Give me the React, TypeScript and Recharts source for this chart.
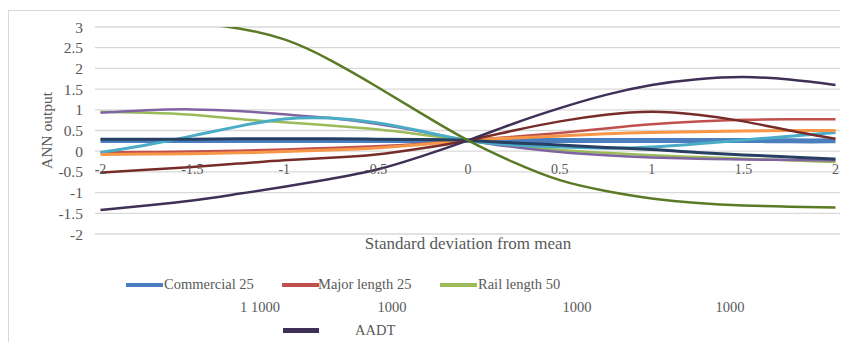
import { LineChart, Line, XAxis, YAxis, CartesianGrid, ReferenceDot } from 'recharts';

// x positions (standard deviations from mean)
const xs = [-2, -1.75, -1.5, -1.25, -1, -0.75, -0.5, -0.25, 0, 0.25, 0.5, 0.75, 1, 1.25, 1.5, 1.75, 2];

const commercial = [0.26, 0.26, 0.26, 0.26, 0.26, 0.26, 0.26, 0.26, 0.26, 0.26, 0.26, 0.26, 0.26, 0.26, 0.26, 0.25, 0.25];
const majorLength = [-0.03, -0.02, -0.01, 0.01, 0.04, 0.08, 0.12, 0.18, 0.26, 0.35, 0.44, 0.55, 0.65, 0.72, 0.76, 0.77, 0.77];
const railLength = [0.95, 0.93, 0.88, 0.78, 0.7, 0.62, 0.53, 0.4, 0.26, 0.13, 0.03, -0.04, -0.1, -0.14, -0.18, -0.22, -0.26];
const purpleSeries = [0.93, 0.99, 1.01, 0.97, 0.89, 0.8, 0.66, 0.47, 0.26, 0.1, -0.02, -0.1, -0.15, -0.18, -0.2, -0.21, -0.22];
const cyanSeries = [-0.03, 0.15, 0.37, 0.6, 0.78, 0.8, 0.69, 0.48, 0.26, 0.15, 0.1, 0.07, 0.1, 0.18, 0.27, 0.36, 0.45];
const orangeSeries = [-0.08, -0.07, -0.06, -0.04, -0.01, 0.03, 0.08, 0.16, 0.26, 0.32, 0.37, 0.42, 0.45, 0.47, 0.49, 0.5, 0.5];
const navySeries = [0.29, 0.29, 0.29, 0.3, 0.3, 0.3, 0.29, 0.28, 0.26, 0.2, 0.15, 0.09, 0.04, -0.03, -0.09, -0.14, -0.19];
const darkRedSeries = [-0.52, -0.45, -0.38, -0.3, -0.22, -0.16, -0.08, 0.07, 0.26, 0.5, 0.72, 0.88, 0.95, 0.88, 0.72, 0.5, 0.3];
const aadt = [-1.42, -1.31, -1.19, -1.03, -0.86, -0.67, -0.45, -0.12, 0.26, 0.67, 1.04, 1.36, 1.6, 1.74, 1.79, 1.73, 1.6];

// dark green curve: its left part runs above the top of the axis and is clipped
const greenXs = [-1.6, -1.3, -1, -0.75, -0.5, -0.25, 0, 0.25, 0.5, 0.75, 1, 1.25, 1.5, 1.75, 2];
const greenYs = [3.12, 3.0, 2.7, 2.2, 1.57, 0.9, 0.26, -0.27, -0.7, -0.96, -1.14, -1.25, -1.31, -1.34, -1.36];

const yTicks = [-2, -1.5, -1, -0.5, 0, 0.5, 1, 1.5, 2, 2.5, 3];
const xTicks = [-2, -1.5, -1, -0.5, 0, 0.5, 1, 1.5, 2];

const data = xs.map((x, i) => ({
  x,
  commercial: commercial[i],
  major: majorLength[i],
  rail: railLength[i],
  purple: purpleSeries[i],
  cyan: cyanSeries[i],
  orange: orangeSeries[i],
  navy: navySeries[i],
  darkRed: darkRedSeries[i],
  aadt: aadt[i],
}));
const greenData = greenXs.map((x, i) => ({ x, green: greenYs[i] }));

const series = [
  { key: 'commercial', color: '#4a7ebf', width: 5 },
  { key: 'major', color: '#c0504d', width: 2.5 },
  { key: 'rail', color: '#9bbb59', width: 2.5 },
  { key: 'purple', color: '#8064a2', width: 2.5 },
  { key: 'cyan', color: '#4bacc6', width: 3 },
  { key: 'orange', color: '#f79646', width: 3 },
  { key: 'navy', color: '#263f63', width: 3 },
  { key: 'darkRed', color: '#772c2a', width: 2.5 },
  { key: 'aadt', color: '#3f3058', width: 2.5 },
];

const grey = '#595959';
const serif = '"Liberation Serif", "Times New Roman", serif';

const legendRow1 = [
  { label: 'Commercial 25', color: '#4a7ebf', marker: 117, text: 155 },
  { label: 'Major length 25', color: '#c0504d', marker: 273, text: 309 },
  { label: 'Rail length 50', color: '#9bbb59', marker: 431, text: 469 },
];
const legendRow2 = [
  { label: '1 1000', center: 251 },
  { label: '1000', center: 383 },
  { label: '1000', center: 568 },
  { label: '1000', center: 721 },
];

const App = () => {
  return (
    <div
      style={{
        position: 'relative',
        width: 845,
        height: 335,
        marginTop: 2,
        borderTop: '1px solid #d9d9d9',
        borderLeft: '1px solid #d9d9d9',
        fontFamily: serif,
        background: '#fff',
      }}
    >
      <LineChart
        width={845}
        height={331}
        data={data}
        margin={{ top: 16, right: 13, left: 0, bottom: 78 }}
        style={{ fontFamily: serif }}
      >
        <CartesianGrid horizontal vertical={false} stroke="#d9d9d9" strokeWidth={1.3} />
        <XAxis
          dataKey="x"
          type="number"
          domain={[-2.03, 2.03]}
          ticks={xTicks}
          tick={false}
          axisLine={false}
          tickLine={false}
          height={30}
          allowDataOverflow
          label={{ value: 'Standard deviation from mean', position: 'insideTop', offset: 3, fill: grey, fontSize: 17 }}
        />
        <YAxis
          type="number"
          domain={[-2, 3]}
          ticks={yTicks}
          interval={0}
          allowDataOverflow
          width={86}
          axisLine={false}
          tickLine={false}
          tickSize={0}
          tickMargin={12}
          tick={{ fill: grey, fontSize: 15.5 }}
          label={{ value: 'ANN output', angle: -90, position: 'insideLeft', offset: 37, fill: grey, fontSize: 15.5, style: { textAnchor: 'middle' } }}
        />
        {xTicks.map((t) => (
          <ReferenceDot
            key={t}
            x={t}
            y={0}
            r={0}
            fill="none"
            stroke="none"
            label={{ value: String(t), position: 'bottom', offset: 13, fill: grey, fontSize: 14 }}
          />
        ))}
        {series.map((s) => (
          <Line
            key={s.key}
            dataKey={s.key}
            type="natural"
            stroke={s.color}
            strokeWidth={s.width}
            dot={false}
            isAnimationActive={false}
          />
        ))}
        <Line
          data={greenData}
          dataKey="green"
          type="natural"
          stroke="#5a7a26"
          strokeWidth={2.5}
          dot={false}
          isAnimationActive={false}
        />
      </LineChart>

      {legendRow1.map((item) => (
        <div key={item.label}>
          <div style={{ position: 'absolute', left: item.marker, top: 272, width: 37, height: 4, background: item.color }} />
          <div style={{ position: 'absolute', left: item.text, top: 265, fontSize: 14.5, color: grey, lineHeight: '17px', whiteSpace: 'nowrap' }}>
            {item.label}
          </div>
        </div>
      ))}
      {legendRow2.map((item, i) => (
        <div
          key={i}
          style={{ position: 'absolute', left: item.center, top: 288, transform: 'translateX(-50%)', fontSize: 14.5, color: grey, lineHeight: '17px', whiteSpace: 'nowrap' }}
        >
          {item.label}
        </div>
      ))}
      <div style={{ position: 'absolute', left: 274, top: 317, width: 36, height: 5, background: '#3f3058' }} />
      <div style={{ position: 'absolute', left: 346, top: 311, fontSize: 14.5, color: grey, lineHeight: '17px' }}>AADT</div>
    </div>
  );
};

export default App;
